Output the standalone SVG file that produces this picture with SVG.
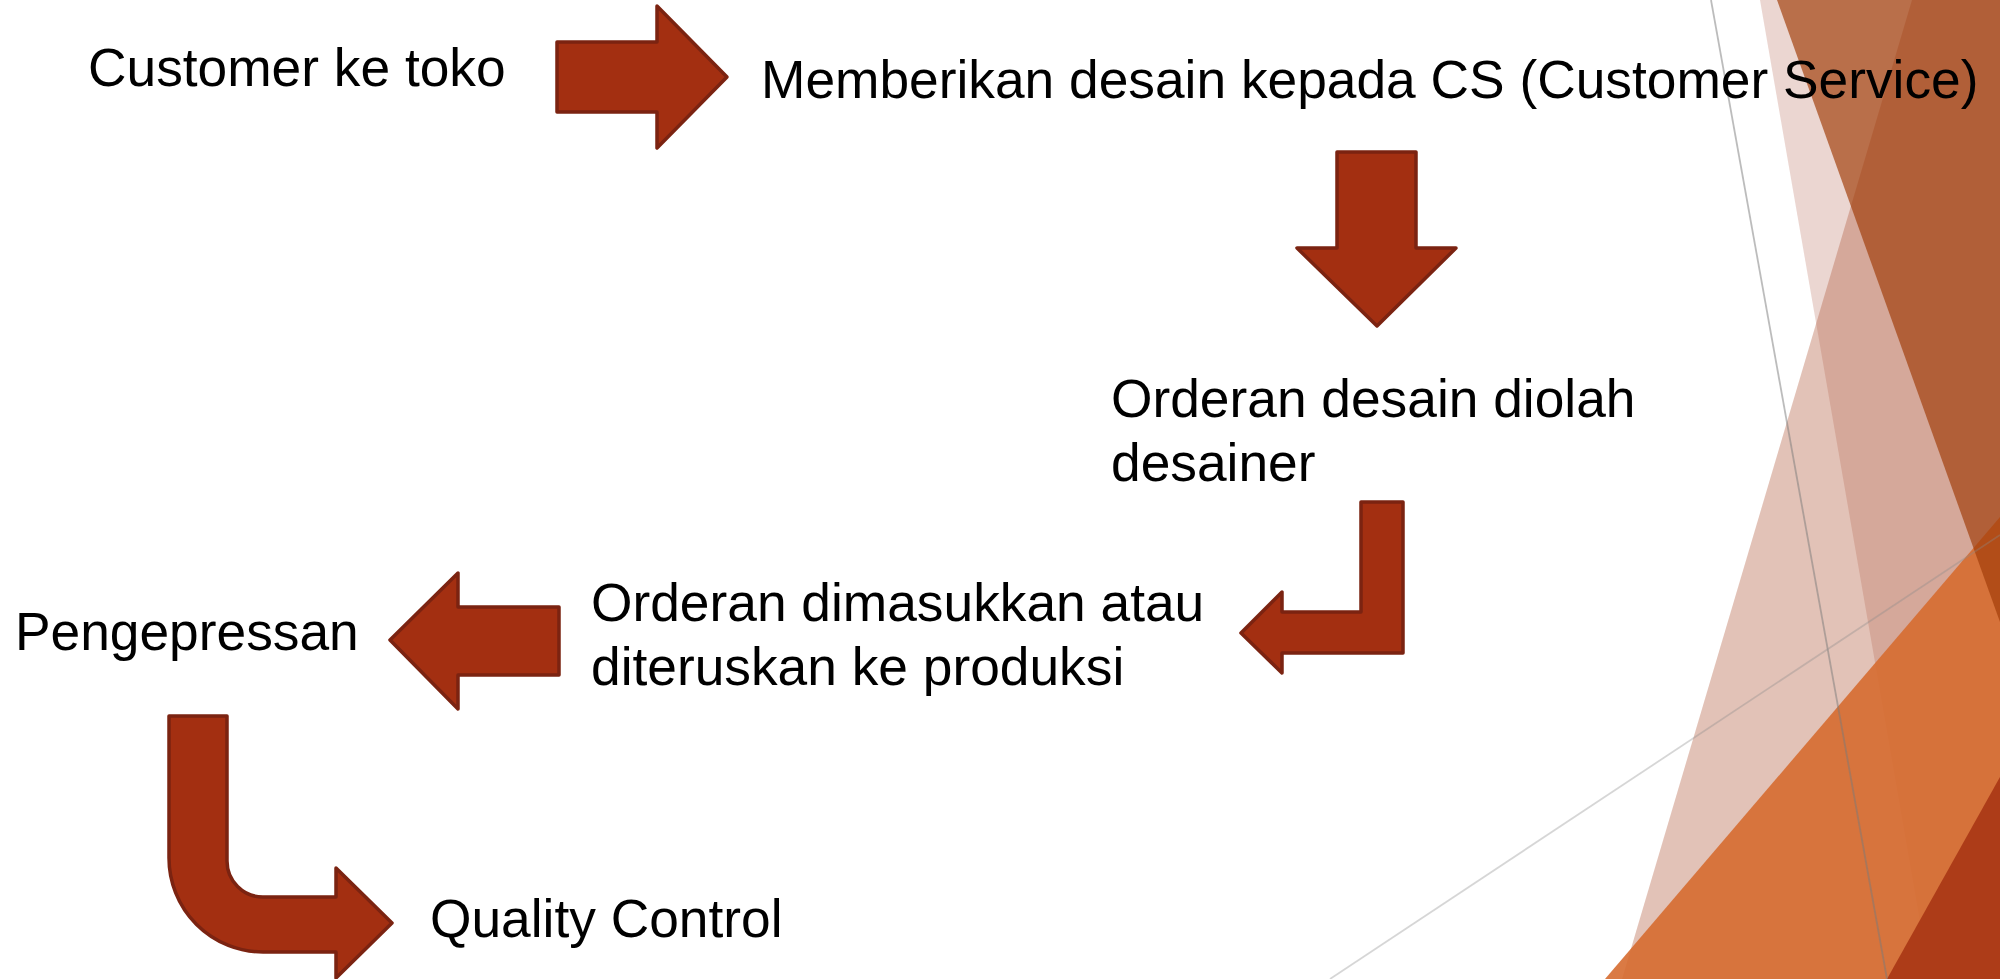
<svg xmlns="http://www.w3.org/2000/svg" width="2000" height="979" viewBox="0 0 2000 979">
<style>
.lbl{font-family:"Liberation Sans",Arial,sans-serif;font-size:53.3px;fill:#000}
.arr{fill:#a32f11;stroke:#7b2311;stroke-width:3.5;stroke-linejoin:round}
</style>
<rect x="0" y="0" width="2000" height="979" fill="#ffffff"/>
<g id="background">
<polygon points="1760,0 2000,0 2000,979 1930,979" fill="#9b3219" fill-opacity="0.2"/>
<polygon points="1912,0 2000,0 2000,979 1622,979" fill="#af5a3c" fill-opacity="0.37"/>
<polygon points="2000,517 2000,979 1605,979" fill="#d66c30" fill-opacity="0.9"/>
<polygon points="1777,0 2000,0 2000,622" fill="#9f3b08" fill-opacity="0.67"/>
<polygon points="2000,777 2000,979 1887,979" fill="#ad3c18"/>
<line x1="1711" y1="0" x2="1887" y2="979" stroke="#7a7a7a" stroke-opacity="0.5" stroke-width="1.8"/>
<line x1="1330" y1="979" x2="2000" y2="535" stroke="#8a8a8a" stroke-opacity="0.35" stroke-width="1.8"/>
</g>
<g id="connectors">
<polygon class="arr" points="557,42 657,42 657,6 727,77 657,148 657,112 557,112"/>
<polygon class="arr" points="1337,152 1416,152 1416,248 1456,248 1377,326 1297,248 1337,248"/>
<polygon class="arr" points="1361,502 1403,502 1403,653 1282,653 1282,673 1241,633 1282,592 1282,612 1361,612"/>
<polygon class="arr" points="559,607 559,675 458,675 458,709 390,640 458,573 458,607"/>
<path class="arr" d="M169,716 L227,716 L227,861 A36,36 0 0 0 263,897 L336,897 L336,868 L392,923 L336,978 L336,952 L263,952 A94,94 0 0 1 169,858 Z"/>
</g>
<g id="node-customer"><text class="lbl" x="88" y="86">Customer ke toko</text></g>
<g id="node-memberikan"><text class="lbl" x="761" y="98">Memberikan desain kepada CS (Customer Service)</text></g>
<g id="node-orderan-desain"><text class="lbl" x="1111" y="417">Orderan desain diolah</text><text class="lbl" x="1111" y="481">desainer</text></g>
<g id="node-orderan-produksi"><text class="lbl" x="591" y="621">Orderan dimasukkan atau</text><text class="lbl" x="591" y="685">diteruskan ke produksi</text></g>
<g id="node-pengepressan"><text class="lbl" x="15" y="650">Pengepressan</text></g>
<g id="node-qc"><text class="lbl" x="430" y="937">Quality Control</text></g>
</svg>
